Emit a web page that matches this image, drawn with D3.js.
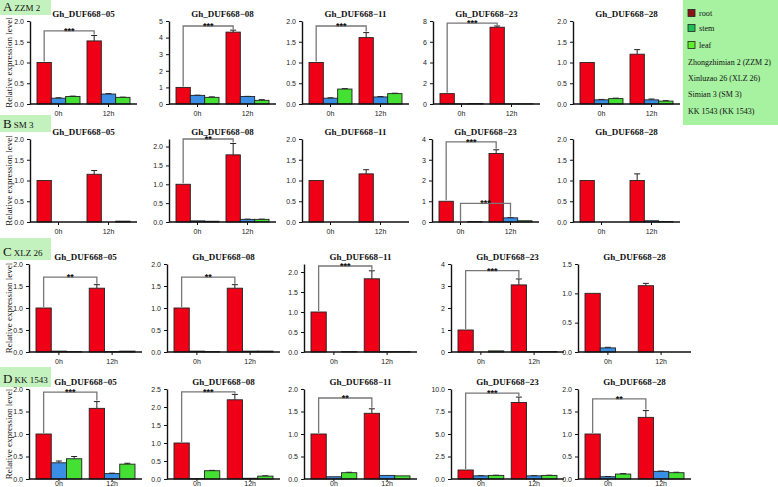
<!DOCTYPE html>
<html><head><meta charset="utf-8">
<script src="https://cdn.jsdelivr.net/npm/d3@7"></script>
<style>body{margin:0;background:#fff}svg{display:block}</style>
</head><body>
<svg id="c" width="778" height="487"></svg>
<script>
const genes = ["Gh_DUF668\u221205","Gh_DUF668\u221208","Gh_DUF668\u221211","Gh_DUF668\u221223","Gh_DUF668\u221228"];
const times = ["0h","12h"];
const tissues = ["root","stem","leaf"];
const rowLetters = ["A","B","C","D"];
const rowNames = ["ZZM 2","SM 3","XLZ 26","KK 1543"];
const legendVarieties = ["Zhongzhimian 2 (ZZM 2)","Xinluzao 26 (XLZ 26)","Simian 3 (SM 3)","KK 1543 (KK 1543)"];

// values[gene][time][tissue]
const zzm2Values = [[[1.0,0.14,0.18],[1.52,0.24,0.16]],[[1.0,0.52,0.40],[4.33,0.45,0.22]],[[1.0,0.14,0.36],[1.60,0.17,0.25]],[[1.0,0.02,0.05],[7.40,0.02,0.02]],[[1.0,0.10,0.13],[1.20,0.10,0.07]]];
const zzm2Errors = [[[0,0.01,0.01],[0.13,0.01,0.005]],[[0,0.01,0.03],[0.12,0.01,0.04]],[[0,0.01,0.01],[0.12,0.01,0.01]],[[0,0,0],[0.12,0,0]],[[0,0.01,0.01],[0.11,0.02,0.01]]];
const sm3Values = [[[1.0,0,0],[1.15,0,0.02]],[[1.0,0.03,0.02],[1.78,0.07,0.07]],[[1.0,0,0],[1.16,0,0]],[[1.0,0,0.02],[3.3,0.2,0.06]],[[1.0,0,0],[1.0,0.03,0.01]]];
const sm3Errors = [[[0,0,0],[0.09,0,0]],[[0,0,0],[0.3,0.005,0.005]],[[0,0,0],[0.1,0,0]],[[0,0,0],[0.18,0.01,0]],[[0,0,0],[0.16,0,0]]];
const xlz26Values = [[[1.0,0.02,0.01],[1.45,0.01,0.02]],[[1.0,0.02,0.01],[1.45,0.02,0.02]],[[1.0,0,0.01],[1.83,0.01,0.01]],[[1.0,0,0.05],[3.05,0.02,0.02]],[[1.0,0.07,0],[1.13,0,0]]];
const xlz26Errors = [[[0,0,0],[0.08,0,0]],[[0,0,0],[0.08,0,0]],[[0,0,0],[0.2,0,0]],[[0,0,0],[0.27,0,0]],[[0,0.01,0],[0.04,0,0]]];
const kk1543Values = [[[1.0,0.36,0.45],[1.57,0.12,0.33]],[[1.0,0.01,0.23],[2.2,0.02,0.08]],[[1.0,0.05,0.14],[1.46,0.08,0.07]],[[1.0,0.35,0.4],[8.5,0.35,0.4]],[[1.0,0.05,0.11],[1.37,0.17,0.14]]];
const kk1543Errors = [[[0,0.04,0.05],[0.15,0.01,0.02]],[[0,0,0.01],[0.15,0,0.01]],[[0,0,0.01],[0.1,0,0]],[[0,0.02,0.02],[0.6,0.02,0.02]],[[0,0.005,0.01],[0.15,0.005,0.01]]];

const yMaxes = [[2,5,2,8,2],[2,2.2,2,4,2],[2,2,2.2,4,1.5],[2,2.5,2,10,2]];
const yTicks = [
  [[0,0.5,1,1.5,2],[0,1,2,3,4,5],[0,0.5,1,1.5,2],[0,2,4,6,8],[0,0.5,1,1.5,2]],
  [[0,0.5,1,1.5,2],[0,0.5,1,1.5,2],[0,0.5,1,1.5,2],[0,1,2,3,4],[0,0.5,1,1.5,2]],
  [[0,0.5,1,1.5,2],[0,0.5,1,1.5,2],[0,0.5,1,1.5,2],[0,1,2,3,4],[0,0.5,1,1.5]],
  [[0,0.5,1,1.5,2],[0,0.5,1,1.5,2,2.5],[0,0.5,1,1.5,2],[0,2.5,5,7.5,10],[0,0.5,1,1.5,2]]
];
const yFormats = [[".1f","d",".1f","d",".1f"],[".1f",".1f",".1f","d",".1f"],[".1f",".1f",".1f","d",".1f"],[".1f",".1f",".1f",".1f",".1f"]];
// brackets: [gene, tissue, level, label]
const brackets = [
  [[0,0,1.76,"***"],[1,0,4.7,"***"],[2,0,1.88,"***"],[3,0,7.8,"***"]],
  [[1,0,2.2,"**"],[3,0,3.86,"***"],[3,1,0.9,"***"]],
  [[0,0,1.7,"**"],[1,0,1.7,"**"],[2,0,2.15,"***"],[3,0,3.7,"***"]],
  [[0,0,1.93,"***"],[1,0,2.42,"***"],[2,0,1.8,"**"],[3,0,9.55,"***"],[4,0,1.78,"**"]]
];
const allValues = [zzm2Values, sm3Values, xlz26Values, kk1543Values];
const allErrors = [zzm2Errors, sm3Errors, xlz26Errors, kk1543Errors];

// layout
const rowTop = [21,139,264,389], rowBottom = [104,222,352,479];
const rowX = [[30,169,302,433,573],[30,169,302,432,573],[29,167,304,451,578],[29,167,304,451,578]];
const rowW = [107,107,113,113];
const labelBoxY = [[-2,15],[115,132],[238,260],[367,387]];
const xLabelDy = [12.3,12.3,12.3,7.3];
const barColors = ["#f00016","#3a8ee6","#44e034"];
const legendColors = ["#8c1414","#1fbf5a","#5ef02a"];

const svg = d3.select("#c");
const serif = "'Liberation Serif','Times New Roman',serif";
const sans = "'Liberation Sans',Arial,sans-serif";

// legend
svg.append("rect").attr("x",683).attr("y",0).attr("width",95).attr("height",125).attr("fill","#a6f2a0");
tissues.forEach((t,i)=>{
  const yy=[13,28,45][i];
  svg.append("rect").attr("x",688).attr("y",yy-3.5).attr("width",7).attr("height",7).attr("fill",legendColors[i]).attr("stroke","#222").attr("stroke-width",0.8);
  svg.append("text").attr("x",699).attr("y",yy+3).attr("font-family",serif).attr("font-size",8.2).attr("fill","#111").text(t);
});
legendVarieties.forEach((t,i)=>{
  svg.append("text").attr("x",688).attr("y",[65,81,97,114][i]).attr("font-family",serif).attr("font-size",8).attr("fill","#111").text(t);
});

rowLetters.forEach((L,r)=>{
  const [by0,by1]=labelBoxY[r];
  svg.append("rect").attr("x",0).attr("y",by0).attr("width",51).attr("height",by1-by0).attr("fill","#c4f2be");
  const tl = svg.append("text").attr("x",3).attr("y",by1-4).attr("font-family",serif).attr("fill","#111");
  tl.append("tspan").attr("font-size",13).text(L);
  tl.append("tspan").attr("font-size",9).attr("dx",2).text(rowNames[r]);

  const y0=rowBottom[r], y1=rowTop[r];
  svg.append("text").attr("transform",`translate(12,${(y0+y1)/2}) rotate(-90)`).attr("text-anchor","middle")
    .attr("font-family",serif).attr("font-size",9).attr("fill","#111").text("Relative expression level");

  genes.forEach((g,gi)=>{
    const x0=rowX[r][gi], w=rowW[r];
    const y = d3.scaleLinear().domain([0,yMaxes[r][gi]]).range([y0,y1]);
    const xb = d3.scaleBand().domain(times).range([x0+7,x0+w-7]).paddingInner(0.14);
    const xi = d3.scaleBand().domain(tissues).range([0,xb.bandwidth()]);
    const gp = svg.append("g");
    gp.append("text").attr("x",x0+w/2).attr("y",y1-4).attr("text-anchor","middle").attr("font-family",serif)
      .attr("font-weight","bold").attr("font-size",9).attr("fill","#111").text(g);
    const vals = allValues[r][gi], errs = allErrors[r][gi];
    const data=[];
    times.forEach((t,ti)=>tissues.forEach((s,si)=>data.push({t,s,si,v:vals[ti][si],e:errs[ti][si]})));
    data.filter(d=>d.e>0).forEach(d=>{
      const cx = xb(d.t)+xi(d.s)+xi.bandwidth()/2;
      gp.append("line").attr("x1",cx).attr("x2",cx).attr("y1",y(d.v)).attr("y2",y(d.v+d.e)).attr("stroke","#222").attr("stroke-width",1);
      gp.append("line").attr("x1",cx-3).attr("x2",cx+3).attr("y1",y(d.v+d.e)).attr("y2",y(d.v+d.e)).attr("stroke","#222").attr("stroke-width",1);
    });
    gp.selectAll("rect.bar").data(data).join("rect").attr("class","bar")
      .attr("x",d=>xb(d.t)+xi(d.s)).attr("width",xi.bandwidth())
      .attr("y",d=>y(d.v)).attr("height",d=>Math.max(0,y0-y(d.v)))
      .attr("fill",d=>barColors[d.si]).attr("stroke","#222").attr("stroke-width",0.9);
    const ay = d3.axisLeft(y).tickValues(yTicks[r][gi]).tickFormat(d3.format(yFormats[r][gi])).tickSize(3).tickSizeOuter(0);
    const ga = gp.append("g").attr("transform",`translate(${x0},0)`).call(ay);
    ga.select(".domain").attr("stroke","#111").attr("stroke-width",1.4);
    ga.selectAll("text").attr("font-family",sans).attr("font-size",7).attr("fill","#222");
    ga.selectAll(".tick line").attr("stroke","#111");
    const ax = d3.axisBottom(xb).tickSize(r===3?2:3);
    const gx = gp.append("g").attr("transform",`translate(0,${y0})`).call(ax);
    gx.select(".domain").remove();
    gx.selectAll("text").attr("font-family",sans).attr("font-size",7).attr("fill","#222").attr("y",xLabelDy[r]).attr("dy",0);
    gx.selectAll(".tick line").attr("stroke","#111");
    gp.append("line").attr("x1",x0).attr("x2",x0+w).attr("y1",y0).attr("y2",y0).attr("stroke","#111").attr("stroke-width",1.4);
  });
  brackets[r].forEach(([gi,si,lvl,lab])=>{
    const x0=rowX[r][gi], w=rowW[r];
    const y = d3.scaleLinear().domain([0,yMaxes[r][gi]]).range([y0,y1]);
    const xb = d3.scaleBand().domain(times).range([x0+7,x0+w-7]).paddingInner(0.14);
    const xi = d3.scaleBand().domain(tissues).range([0,xb.bandwidth()]);
    const v = allValues[r][gi], e = allErrors[r][gi];
    const xa = xb("0h")+xi(tissues[si])+xi.bandwidth()/2;
    const xc = xb("12h")+xi(tissues[si])+xi.bandwidth()/2;
    const ya = y(v[0][si]+e[0][si])-1, yc = y(v[1][si]+e[1][si])-1, yl = y(lvl);
    svg.append("path").attr("d",`M${xa},${ya}V${yl}H${xc}V${yc}`).attr("fill","none").attr("stroke","#777").attr("stroke-width",1.3);
    svg.append("text").attr("x",(xa+xc)/2).attr("y",yl+3).attr("text-anchor","middle").attr("font-family",sans)
      .attr("font-weight","bold").attr("font-size",9).attr("fill","#111").text(lab);
  });
});
</script>
</body></html>
